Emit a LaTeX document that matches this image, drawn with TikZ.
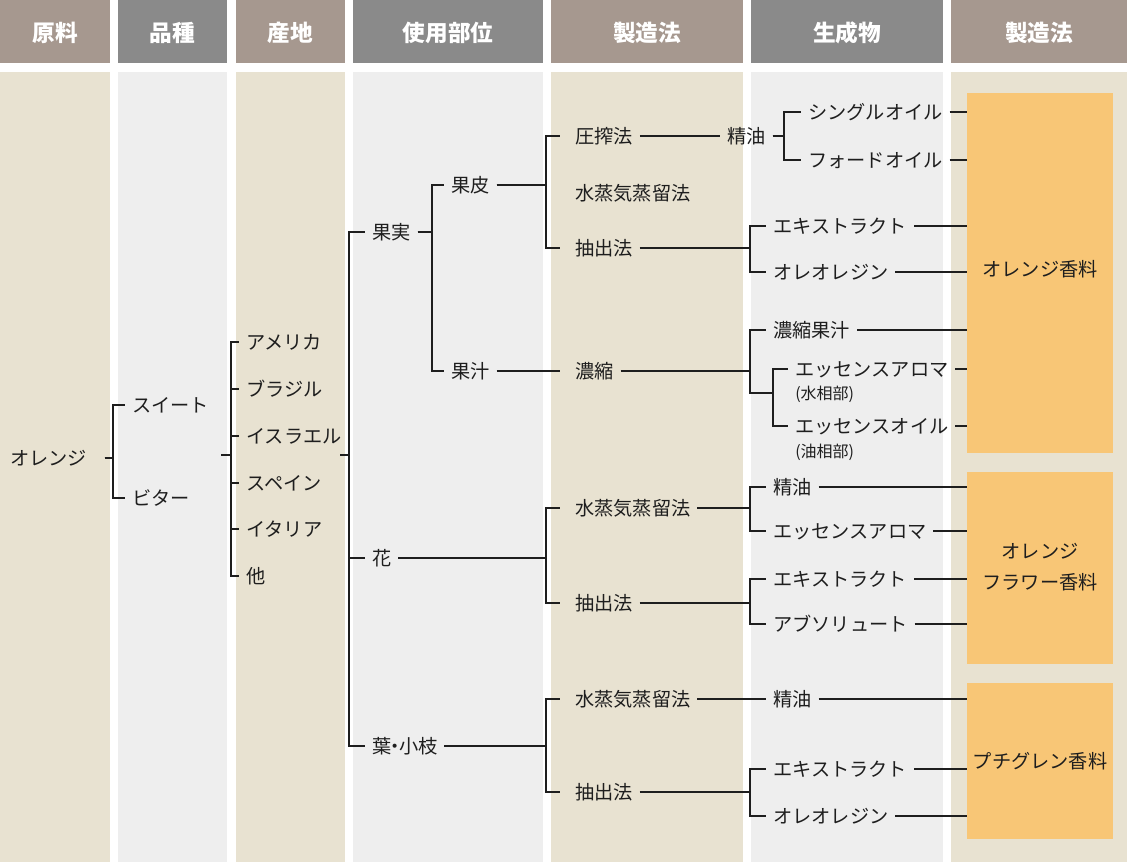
\documentclass[tikz,border=0pt]{standalone}
\usepackage{fontspec}
\setmainfont{Noto Sans CJK JP}
\usepackage{tikz}
\usetikzlibrary{calc}
\definecolor{hdrbrown}{RGB}{166,152,143}
\definecolor{hdrgray}{RGB}{138,138,138}
\definecolor{colbeige}{RGB}{232,226,209}
\definecolor{colgray}{RGB}{238,238,238}
\definecolor{scent}{RGB}{248,198,118}
\definecolor{ink}{RGB}{30,30,30}
\tikzset{
  hdr/.style      = {text=white, font=\fontsize{17}{19}\selectfont\bfseries},
  item/.style     = {anchor=west, xshift=-5pt, inner xsep=5pt, inner ysep=0pt,
                     text height=12.7pt, text depth=1.7pt, text=ink,
                     font=\fontsize{14.4}{17}\selectfont},
  note/.style     = {anchor=west, inner sep=0pt, text=ink, font=\fontsize{12}{14}\selectfont},
  scentbox/.style = {fill=scent, text=ink, align=center, inner sep=0pt,
                     font=\fontsize{14.4}{23}\selectfont, minimum width=109.5pt},
  link/.style     = {draw=ink, line width=2pt},
  arm/.style      = {link, shorten >=6pt},
}

\begin{document}
\begin{tikzpicture}[x=0.75pt, y=-0.75pt]
\useasboundingbox (0,0) rectangle (1127,862);

% Columns: header bar + body strip
\foreach \i/\xa/\xb/\hc/\bc/\t in {1/0/110/hdrbrown/colbeige/原料, 2/118/227/hdrgray/colgray/品種,
    3/236/345/hdrbrown/colbeige/産地, 4/353/543/hdrgray/colgray/使用部位,
    5/551/743/hdrbrown/colbeige/製造法, 6/751/943/hdrgray/colgray/生成物,
    7/951/1127/hdrbrown/colbeige/製造法}{%
  \fill[\hc] (\xa,0) rectangle (\xb,63);
  \fill[\bc] (\xa,72) rectangle (\xb,862);
  \node[hdr] (hd\i) at ({(\xa+\xb)/2},33) {\t};
}

% Spine positions of the brackets
\coordinate (sp1) at (113,0);
\coordinate (spF) at (432,0);
\coordinate (spP) at (546,0);
\coordinate (sp6) at (750,0);
\coordinate (spOil) at (784,0);

% Raw material, variety, origin
\node[item] (orange) at (10,458) {オレンジ};
\node[item] (sweet)  at (132,405) {スイート};
\node[item] (bitter) at (132,498) {ビター};
\node[item] (usa)    at (246,342) {アメリカ};
\node[item] (brazil) at (246,389) {ブラジル};
\node[item] (israel) at (246,436) {イスラエル};
\node[item] (spain)  at (246,483) {スペイン};
\node[item] (italy)  at (246,529) {イタリア};
\node[item] (other)  at (246,576) {他};

% Parts used
\node[item] (fruit)  at (372,232) {果実};
\node[item] (flower) at (372,558) {花};
\node[item] (leaf)   at (372,746) {葉{\kern-0.3em}・{\kern-0.3em}小枝};
\node[item] (peel)   at (451,185) {果皮};
\node[item] (juice)  at (451,371) {果汁};

% Processes
\node[item] (press)  at (575,136) {圧搾法};
\node[item] (steamA) at (575,193) {水蒸気蒸留法};
\node[item] (extrA)  at (575,248) {抽出法};
\node[item] (conc)   at (575,371) {濃縮};
\node[item] (steamB) at (575,508) {水蒸気蒸留法};
\node[item] (extrB)  at (575,603) {抽出法};
\node[item] (steamC) at (575,699) {水蒸気蒸留法};
\node[item] (extrC)  at (575,792) {抽出法};

% Products
\node[item] (oilA)    at (727,136) {精油};
\node[item] (single)  at (808,112) {シングルオイル};
\node[item] (ford)    at (808,160) {フォードオイル};
\node[item] (extAct)  at (773,226) {エキストラクト};
\node[item] (oleoA)   at (773,272) {オレオレジン};
\node[item] (cjuice)  at (773,330) {濃縮果汁};
\node[item] (aroma)   at (795,369) {エッセンスアロマ};
\node[note] (water)   at (795,394) {(水相部)};
\node[item] (essoil)  at (795,426) {エッセンスオイル};
\node[note] (oilph)   at (795,452) {(油相部)};
\node[item] (oilB)    at (773,487) {精油};
\node[item] (aromaB)  at (773,531) {エッセンスアロマ};
\node[item] (extB)    at (773,579) {エキストラクト};
\node[item] (absol)   at (773,624) {アブソリュート};
\node[item] (oilC)    at (773,699) {精油};
\node[item] (extC)    at (773,769) {エキストラクト};
\node[item] (oleoC)   at (773,816) {オレオレジン};

% Fragrance boxes
\node[scentbox, minimum height=270pt] (boxA) at (1040,273) {\raisebox{6.5pt}{オレンジ香料}};
\node[scentbox, minimum height=144pt] (boxB) at (1040,568) {\raisebox{2pt}{オレンジ}\\\raisebox{2pt}{フラワー香料}};
\node[scentbox, minimum height=117pt] (boxC) at (1040,761) {プチグレン香料};

% Brackets: orange -> variety -> origin -> part
\foreach \c in {sweet,bitter}{\draw[link, shorten <=8pt] (orange.east) -- (orange.east -| sp1) |- (\c.west);}
\coordinate (varj) at (221,455);
\coordinate (sp3) at (231,455);
\draw[link] (varj) -- (sp3);
\foreach \c in {usa,brazil,israel,spain,italy,other}{\draw[link] (sp3) |- (\c.west);}
\coordinate (regj) at (340,455);
\coordinate (sp4) at (349,455);
\draw[link] (regj) -- (sp4);
\foreach \c in {fruit,flower,leaf}{\draw[link] (sp4) |- (\c.west);}
\foreach \c in {peel,juice}{\draw[link] (fruit.east) -- (fruit.east -| spF) |- (\c.west);}

% Part -> process
\foreach \c in {press,extrA}{\draw[arm] (peel.east) -- (peel.east -| spP) |- (\c.west);}
\draw[arm] (juice.east) -- (conc.west);
\foreach \c in {steamB,extrB}{\draw[arm] (flower.east) -- (flower.east -| spP) |- (\c.west);}
\foreach \c in {steamC,extrC}{\draw[arm] (leaf.east) -- (leaf.east -| spP) |- (\c.west);}

% Process -> product
\draw[link] (press.east) -- (press.east -| oilA.west);
\foreach \c in {single,ford}{\draw[link] (oilA.east) -- (oilA.east -| spOil) |- (\c.west);}
\foreach \c in {extAct,oleoA}{\draw[link] (extrA.east) -- (extrA.east -| sp6) |- (\c.west);}
\draw[link] (conc.east) -- (conc.east -| sp6) |- (cjuice.west);
\coordinate (essj) at (773,393);
\draw[link] (conc.east -| sp6) |- (essj);
\foreach \c in {aroma,essoil}{\draw[link] (essj) |- (\c.west);}
\foreach \c in {oilB,aromaB}{\draw[link] (steamB.east) -- (steamB.east -| sp6) |- (\c.west);}
\foreach \c in {extB,absol}{\draw[link] (extrB.east) -- (extrB.east -| sp6) |- (\c.west);}
\draw[link] (steamC.east) -- (steamC.east -| oilC.west);
\foreach \c in {extC,oleoC}{\draw[link] (extrC.east) -- (extrC.east -| sp6) |- (\c.west);}

% Product -> fragrance
\foreach \c in {single,ford,extAct,oleoA,cjuice,aroma,essoil}{\draw[link] (\c.east) -- (\c.east -| boxA.west);}
\foreach \c in {oilB,aromaB,extB,absol}{\draw[link] (\c.east) -- (\c.east -| boxB.west);}
\foreach \c in {oilC,extC,oleoC}{\draw[link] (\c.east) -- (\c.east -| boxC.west);}
\end{tikzpicture}
\end{document}
